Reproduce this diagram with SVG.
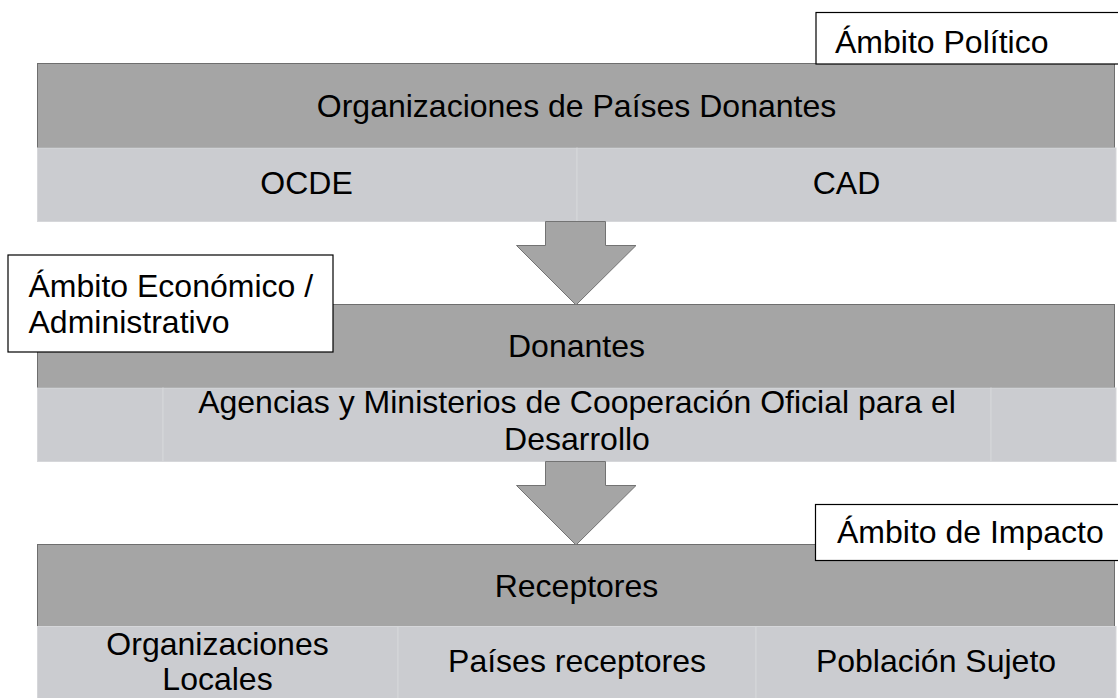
<svg xmlns="http://www.w3.org/2000/svg" width="1118" height="698" viewBox="0 0 1118 698">
<style>
.dark{fill:#a5a5a5;stroke:#6e6e6e;stroke-width:1}
.light{fill:#cbccd0;stroke:#d6d7da;stroke-width:1}
.lbl{fill:#ffffff;stroke:#000000;stroke-width:1.2}
.t{font-family:"Liberation Sans",Arial,sans-serif;font-size:32px;fill:#000000}
.c{text-anchor:middle}
.arrow{fill:#a5a5a5;stroke:#737373;stroke-width:1}
</style>
<rect width="1118" height="698" fill="#ffffff"/>
<g id="band1">
<rect class="dark" x="37.5" y="63.5" width="1077" height="84.5"/>
<text class="t c" x="576.5" y="117">Organizaciones de Países Donantes</text>
</g>
<g id="ocde">
<rect class="light" x="37.5" y="148" width="539.5" height="73.5"/>
<text class="t c" x="306.5" y="194">OCDE</text>
</g>
<g id="cad">
<rect class="light" x="577" y="148" width="539" height="73.5"/>
<text class="t c" x="846.5" y="194">CAD</text>
</g>
<g id="band2">
<rect class="dark" x="37.5" y="304.5" width="1077" height="83.5"/>
<text class="t c" x="576.5" y="357">Donantes</text>
</g>
<g id="agencias">
<rect class="light" x="37.5" y="388" width="125.5" height="73.5"/>
<rect class="light" x="163" y="388" width="828" height="73.5"/>
<rect class="light" x="991" y="388" width="125" height="73.5"/>
<text class="t c" x="577" y="413">Agencias y Ministerios de Cooperación Oficial para el</text>
<text class="t c" x="577" y="450">Desarrollo</text>
</g>
<g id="band3">
<rect class="dark" x="37.5" y="544.5" width="1077" height="82"/>
<text class="t c" x="576.5" y="597">Receptores</text>
</g>
<g id="orglocales">
<rect class="light" x="37.5" y="626.5" width="360.5" height="80"/>
<text class="t c" x="217.5" y="655">Organizaciones</text>
<text class="t c" x="217.5" y="690">Locales</text>
</g>
<g id="paises">
<rect class="light" x="398" y="626.5" width="358" height="80"/>
<text class="t c" x="577" y="672">Países receptores</text>
</g>
<g id="poblacion">
<rect class="light" x="756" y="626.5" width="360" height="80"/>
<text class="t c" x="936" y="672">Población Sujeto</text>
</g>
<g id="connectors">
<path class="arrow" d="M545.5,221.5 L605.5,221.5 L605.5,245.5 L636,245.5 L576,305 L516.5,245.5 L545.5,245.5 Z"/>
<path class="arrow" d="M545.5,461.5 L605.5,461.5 L605.5,485.5 L636,485.5 L576,545 L516.5,485.5 L545.5,485.5 Z"/>
</g>
<g id="ambito-politico">
<rect class="lbl" x="816" y="12.5" width="310" height="51.5"/>
<text class="t" x="835" y="53">Ámbito Político</text>
</g>
<g id="ambito-economico">
<rect class="lbl" x="8" y="255" width="325" height="97"/>
<text class="t" x="28.5" y="297">Ámbito Económico /</text>
<text class="t" x="28.5" y="333">Administrativo</text>
</g>
<g id="ambito-impacto">
<rect class="lbl" x="815.5" y="504.5" width="310" height="56"/>
<text class="t" x="837" y="543">Ámbito de Impacto</text>
</g>
</svg>
